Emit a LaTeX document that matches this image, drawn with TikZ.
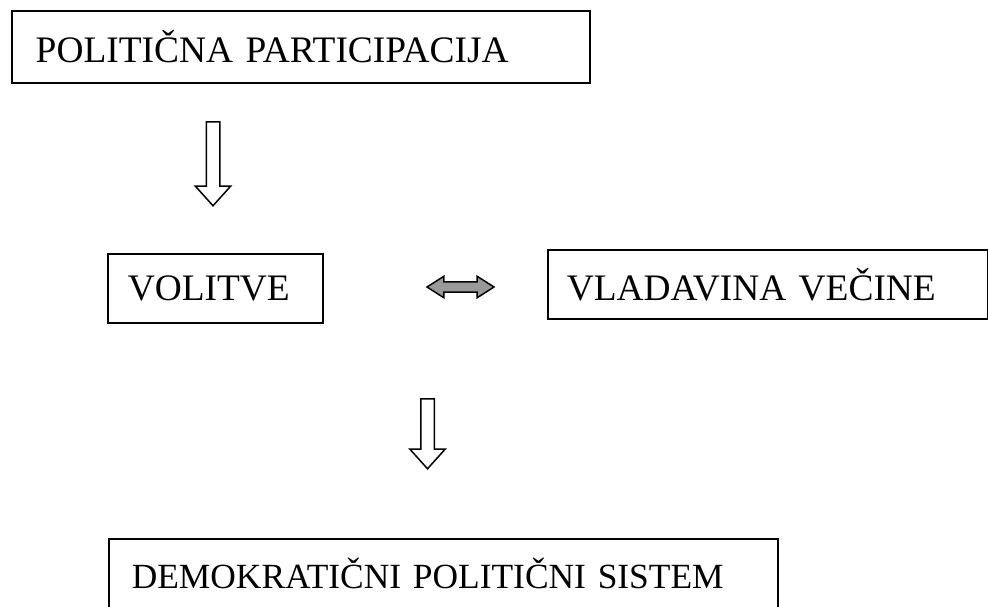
\documentclass[tikz,border=0pt]{standalone}
\usepackage{fontspec}
\setmainfont{Liberation Serif}
\usetikzlibrary{shapes.arrows}

\begin{document}
\begin{tikzpicture}[
    x=0.5pt, y=-0.5pt,
    box/.style={rectangle, draw, line width=0.75pt, anchor=north west, align=left, font=\fontsize{18.7}{22}\selectfont},
    downarrow/.style={single arrow, draw, line width=0.75pt, rotate=-90, inner xsep=0pt, inner ysep=3pt, minimum width=17pt, single arrow head extend=5.5pt, single arrow tip angle=84},
    swaparrow/.style={double arrow, draw, fill=black!40, line width=0.75pt, inner xsep=0pt, inner ysep=2.2pt, minimum width=10pt, double arrow head extend=2.8pt, double arrow tip angle=65}
]
\useasboundingbox (0,0) rectangle (988,606);

\node[box, inner xsep=12pt, text width=265pt, minimum height=36pt] (participation) at (11,10) {\mbox{POLITIČNA PARTICIPACIJA}};
\node[box, inner xsep=10pt, text width=87.5pt, minimum height=34.5pt] (elections) at (107,253) {\mbox{VOLITVE}};
\node[box, inner xsep=9.5pt, text width=201pt, minimum height=34.5pt] (majority) at (547,249) {\mbox{VLADAVINA VEČINE}};
\node[box, inner xsep=11.5pt, text width=311.5pt, minimum height=35pt, font=\fontsize{17.7}{21}\selectfont] (democracy) at (108,538) {\mbox{DEMOKRATIČNI POLITIČNI SISTEM}};

\node[downarrow, minimum height=42pt] (down1) at (213,160) {};
\node[swaparrow, minimum height=33.5pt] (swap) at (460.5,287) {};
\node[downarrow, minimum height=35pt] (down2) at (427.5,430) {};

\end{tikzpicture}
\end{document}
